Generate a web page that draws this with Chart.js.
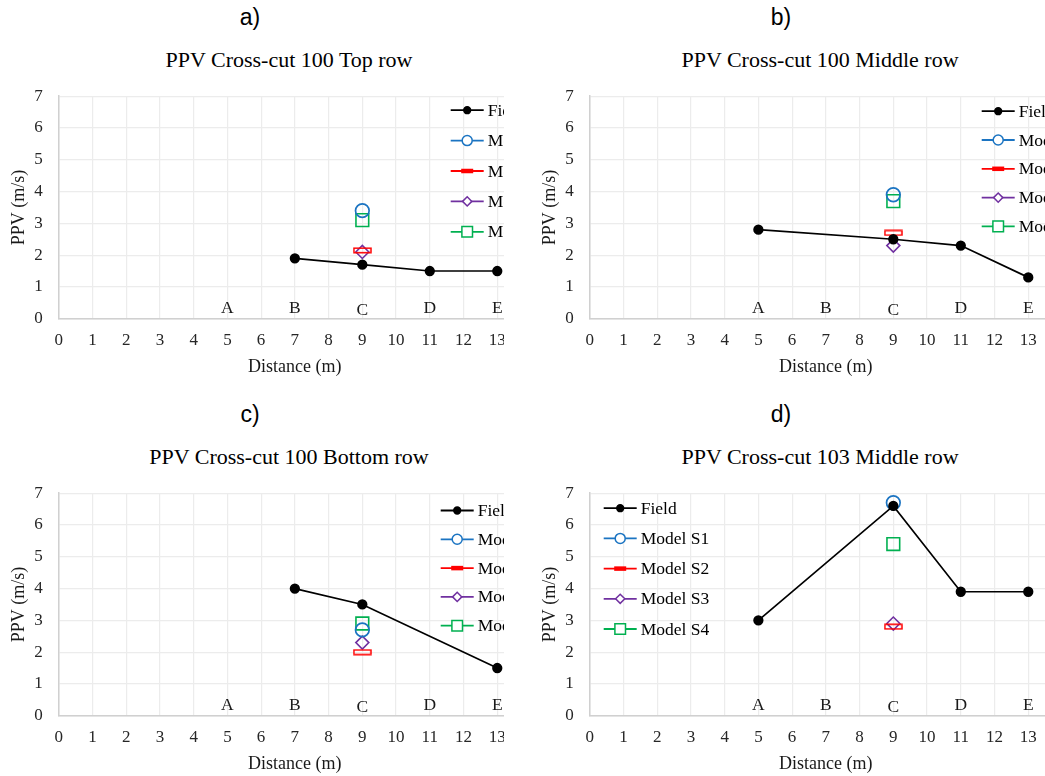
<!DOCTYPE html>
<html lang="en">
<head>
<meta charset="UTF-8">
<title>PPV Cross-cut</title>
<script src="https://cdn.jsdelivr.net/npm/chart.js@4.4.0/dist/chart.umd.min.js"></script>
<style>
  body { margin: 0; background: #fff; width: 1045px; height: 776px; position: relative; overflow: hidden; }
  .panel { position: absolute; overflow: hidden; height: 397px; }
  .tag { position: absolute; font-family: 'Liberation Sans', Arial, sans-serif; font-size: 23px; color: #000; transform: translate(-50%, -50%); }
  .ttl { position: absolute; font-family: 'Liberation Serif', serif; font-size: 22px; color: #000; white-space: nowrap; transform: translate(-50%, -50%); }
  canvas { position: absolute; left: 0; top: 70px; }
</style>
</head>
<body>
<script>
// data
var panelTags = ['a)', 'b)', 'c)', 'd)'];
var panelTitles = ['PPV Cross-cut 100 Top row', 'PPV Cross-cut 100 Middle row',
                   'PPV Cross-cut 100 Bottom row', 'PPV Cross-cut 103 Middle row'];
var fieldDistance = [[7, 9, 11, 13], [5, 9, 11, 13], [7, 9, 13], [5, 9, 11, 13]];
var fieldPPV = [[1.9, 1.7, 1.5, 1.5], [2.8, 2.5, 2.3, 1.3], [4.0, 3.5, 1.5], [3.0, 6.6, 3.9, 3.9]];
var modelDistance = 9;
var modelS1 = [3.4, 3.9, 2.7, 6.7];
var modelS2 = [2.15, 2.7, 2.0, 2.8];
var modelS3 = [2.1, 2.3, 2.3, 2.9];
var modelS4 = [3.1, 3.7, 2.9, 5.4];
var sectionNames = ['A', 'B', 'C', 'D', 'E'];
var sectionDistance = [5, 7, 9, 11, 13];
var sectionLabelY = [0.31, 0.33, 0.27, 0.33, 0.31];
var seriesNames = ['Field', 'Model S1', 'Model S2', 'Model S3', 'Model S4'];

// layout
var panelLeft = [0, 531, 0, 531];
var panelTop = [0, 0, 397, 397];
var panelWidth = [504, 514, 504, 514];
var legendPos = [{x: 392, y: 14, gap: 30.4}, {x: 392, y: 15, gap: 28.8},
                 {x: 382, y: 17.3, gap: 28.8}, {x: 14, y: 15, gap: 30.2}];

var colors = ['#000000', '#1b74c2', '#ff0000', '#7030a0', '#00b050'];
var serif = "'Liberation Serif', 'Times New Roman', serif";

// Excel-style dash marker (hollow flat bar)
var dash = document.createElement('canvas');
dash.width = 19; dash.height = 7;
(function () {
    var c = dash.getContext('2d');
    c.strokeStyle = colors[2];
    c.lineWidth = 1.5;
    c.strokeRect(1, 1.25, 17, 4.5);
})();

var legendMarks = [
    {style: 'circle', r: 3.4, fill: colors[0]},
    {style: 'circle', r: 5, fill: '#fff'},
    {style: 'bar', w: 12, h: 4.5},
    {style: 'rectRot', r: 4.6, fill: '#fff'},
    {style: 'rect', r: 7.5, fill: '#fff'}
];

var extras = {
    id: 'ppvExtras',
    afterDatasetsDraw: function (chart) {
        var ctx = chart.ctx, xs = chart.scales.x, ys = chart.scales.y;
        ctx.save();
        ctx.font = '17.5px ' + serif;
        ctx.fillStyle = '#1a1a1a';
        ctx.textAlign = 'center';
        ctx.textBaseline = 'middle';
        for (var i = 0; i < sectionNames.length; i++) {
            ctx.fillText(sectionNames[i], xs.getPixelForValue(sectionDistance[i]), ys.getPixelForValue(sectionLabelY[i]));
        }
        ctx.restore();
    },
    afterDraw: function (chart, args, opts) {
        var ctx = chart.ctx, area = chart.chartArea;
        var x0 = area.left + opts.x, len = 33;
        chart.data.datasets.forEach(function (ds, k) {
            var y = area.top + opts.y + k * opts.gap;
            var m = legendMarks[k];
            ctx.save();
            ctx.strokeStyle = colors[k];
            ctx.lineWidth = 1.8;
            ctx.beginPath();
            ctx.moveTo(x0, y);
            ctx.lineTo(x0 + len, y);
            ctx.stroke();
            if (m.style === 'bar') {
                ctx.fillStyle = colors[k];
                ctx.fillRect(x0 + len / 2 - m.w / 2, y - m.h / 2, m.w, m.h);
            } else {
                ctx.fillStyle = m.fill;
                ctx.lineWidth = 1.5;
                Chart.helpers.drawPoint(ctx, {pointStyle: m.style, radius: m.r, rotation: 0, borderWidth: 1.5}, x0 + len / 2, y);
            }
            ctx.fillStyle = '#000';
            ctx.font = '17.5px ' + serif;
            ctx.textAlign = 'left';
            ctx.textBaseline = 'middle';
            ctx.fillText(ds.label, x0 + len + 4, y + 1);
            ctx.restore();
        });
    }
};

function pt(x, y) { return {x: x, y: y}; }

for (var p = 0; p < 4; p++) {
    var box = document.createElement('div');
    box.className = 'panel';
    box.style.left = panelLeft[p] + 'px';
    box.style.top = panelTop[p] + 'px';
    box.style.width = panelWidth[p] + 'px';
    document.body.appendChild(box);

    var tag = document.createElement('div');
    tag.className = 'tag';
    tag.style.left = '250px'; tag.style.top = '17px';
    tag.textContent = panelTags[p];
    box.appendChild(tag);

    var ttl = document.createElement('div');
    ttl.className = 'ttl';
    ttl.style.left = '289px'; ttl.style.top = '60px';
    ttl.textContent = panelTitles[p];
    box.appendChild(ttl);

    var cv = document.createElement('canvas');
    cv.width = 578; cv.height = 320;
    box.appendChild(cv);

    var field = fieldDistance[p].map(function (d, k) { return pt(d, fieldPPV[p][k]); });

    new Chart(cv.getContext('2d'), {
        type: 'scatter',
        data: {
            datasets: [
                {label: seriesNames[0], data: field, showLine: true, borderColor: colors[0], borderWidth: 1.7,
                 pointRadius: 4.3, pointBackgroundColor: colors[0], pointBorderColor: colors[0]},
                {label: seriesNames[1], data: [pt(modelDistance, modelS1[p])], pointStyle: 'circle', pointRadius: 6.8,
                 pointBorderColor: colors[1], pointBorderWidth: 1.7, pointBackgroundColor: 'rgba(0,0,0,0)'},
                {label: seriesNames[2], data: [pt(modelDistance, modelS2[p])], pointStyle: dash, pointRadius: 8},
                {label: seriesNames[3], data: [pt(modelDistance, modelS3[p])], pointStyle: 'rectRot', pointRadius: 6.5,
                 pointBorderColor: colors[3], pointBorderWidth: 1.6, pointBackgroundColor: 'rgba(0,0,0,0)'},
                {label: seriesNames[4], data: [pt(modelDistance, modelS4[p])], pointStyle: 'rect', pointRadius: 9,
                 pointBorderColor: colors[4], pointBorderWidth: 1.6, pointBackgroundColor: 'rgba(0,0,0,0)'}
            ]
        },
        options: {
            responsive: false,
            animation: false,
            layout: {padding: {top: 24, right: 47, left: 0, bottom: 0}},
            plugins: {
                legend: {display: false},
                tooltip: {enabled: false},
                ppvExtras: legendPos[p]
            },
            scales: {
                x: {
                    type: 'linear', min: 0, max: 14,
                    afterFit: function (s) { s.height = 71.3; },
                    ticks: {stepSize: 1, padding: 12, autoSkip: false, maxRotation: 0, color: '#262626',
                            font: {family: serif, size: 17},
                            callback: function (v) { return v > 13 ? '' : v; }},
                    grid: {color: '#ececec', lineWidth: 1.2, drawTicks: false},
                    border: {color: '#d0d0d0', width: 1.5},
                    title: {display: true, text: 'Distance (m)', color: '#1a1a1a',
                            font: {family: serif, size: 18}, padding: {top: 0, bottom: 12}}
                },
                y: {
                    min: 0, max: 7,
                    afterFit: function (s) { s.width = 58.7; },
                    ticks: {stepSize: 1, padding: 16, color: '#262626', font: {family: serif, size: 17}},
                    grid: {color: '#ececec', lineWidth: 1.2, drawTicks: false},
                    border: {color: '#d0d0d0', width: 1.5},
                    title: {display: true, text: 'PPV (m/s)', color: '#1a1a1a',
                            font: {family: serif, size: 18}, padding: {top: 8.5, bottom: 0}}
                }
            }
        },
        plugins: [extras]
    });
}
</script>
</body>
</html>
